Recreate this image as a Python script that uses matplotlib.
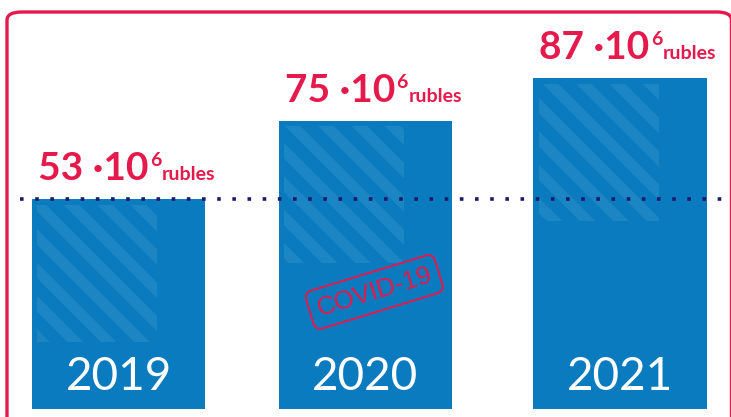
import matplotlib
matplotlib.use("Agg")
import matplotlib.pyplot as plt
from matplotlib.patches import Rectangle, FancyBboxPatch
import numpy as np

# ---- data ----
years = ["2019", "2020", "2021"]
values = [53, 75, 87]          # million rubles
unit_text = "rubles"
stamp_text = "COVID-19"

# ---- style ----
BAR = "#0A7BBF"
STRIPE = "#1C85C3"
RED = "#E5194B"
NAVY = "#1B1A6B"
DPI = 200
W = 0.69
BASE = -6

plt.rcParams["hatch.linewidth"] = 4.0

fig = plt.figure(figsize=(731 / DPI, 417 / DPI), dpi=DPI)
ax = fig.add_axes([0, 0, 1, 1])
ax.set_xlim(-0.4726, 2.4427)
ax.set_ylim(-8.15, 109.05)
ax.axis("off")

x = np.array([0, 0.985, 2.0])
vals = np.array(values, dtype=float)

# bars (extend slightly below zero like the slide)
ax.bar(x, vals - BASE, bottom=BASE, width=W, color=BAR, linewidth=0, zorder=2)

# decorative stripes in upper-left of each bar
for xi, v in zip(x, vals):
    r = Rectangle((xi - W / 2 + 0.02, v - 40), 0.48, 38.5, fill=False,
                  hatch="\\\\", edgecolor=STRIPE, linewidth=0, zorder=3)
    ax.add_patch(r)

# dotted reference line at first year's level
ax.axhline(vals[0], xmin=0.027, xmax=1, color=NAVY, linestyle=(0, (1, 3.2)),
           linewidth=1.3, zorder=4)

# value labels
for xi, v in zip(x, vals):
    t1 = ax.annotate(f"{int(v)} ·10", xy=(xi - W / 2, v), xytext=(2, 7),
                     textcoords="offset points", fontsize=14, fontweight="bold",
                     color=RED, family="Lato", ha="left", va="baseline", zorder=5)
    t2 = ax.annotate("6", xy=(1, 1), xycoords=t1, xytext=(0.6, -0.5),
                     textcoords="offset points", fontsize=7, fontweight="bold",
                     color=RED, family="Lato", ha="left", va="top", zorder=5)
    ax.annotate(unit_text, xy=(1, v), xycoords=(t2, "data"), xytext=(0.3, 7),
                textcoords="offset points", fontsize=7, fontweight="bold",
                color=RED, family="Lato", ha="left", va="baseline", zorder=5)

# year labels inside bars
for xi, yr in zip(x, years):
    ax.text(xi, 3.0, yr, color="white", fontsize=16.5, family="Lato",
            ha="center", va="center", zorder=5)

# COVID stamp on 2020 bar
ax.text(1.02, 27.0, stamp_text, color=RED, fontsize=9.3, family="Liberation Sans",
        rotation=17, ha="center", va="center", zorder=6,
        bbox=dict(boxstyle="round,pad=0.3,rounding_size=0.3", facecolor="none",
                  edgecolor=RED, linewidth=0.7))

# rounded slide frame
frame = FancyBboxPatch((7 / 731, -0.2), 724.5 / 731, 1 - 12 / 417 + 0.2,
                       boxstyle="round,pad=0,rounding_size=0.02",
                       transform=fig.transFigure, fill=False, edgecolor=RED,
                       linewidth=1.2, zorder=1)
fig.patches.append(frame)

fig.savefig("out.png", dpi=DPI, facecolor="white")
